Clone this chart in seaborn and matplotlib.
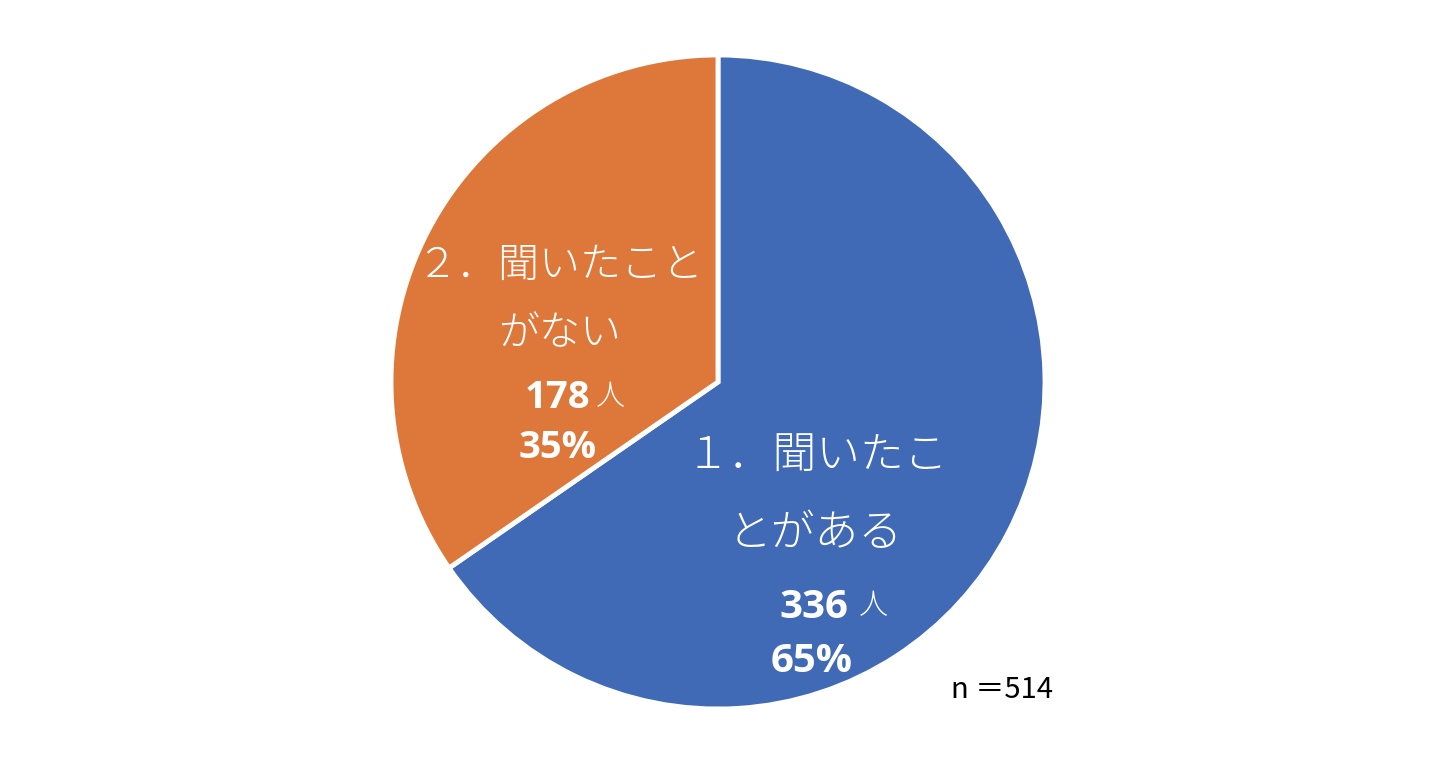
import matplotlib
matplotlib.use("Agg")
import matplotlib.pyplot as plt
import seaborn as sns

# ---- data ----
categories = ["１．聞いたこ\nとがある", "２．聞いたこと\nがない"]
counts = [336, 178]
percents = ["65%", "35%"]
total_label = "n ＝514"
colors = ["#416AB6", "#DE783A"]

sns.set_theme(style="white")
plt.rcParams["font.family"] = ["Noto Sans CJK JP", "DejaVu Sans"]

W, H = 1444, 760
fig = plt.figure(figsize=(W / 100, H / 100), dpi=100)
fig.patch.set_facecolor("white")

cx, cy, r = 718, 382, 327  # pixel centre and radius
ax = fig.add_axes([(cx - r) / W, (H - cy - r) / H, 2 * r / W, 2 * r / H])
ax.pie(counts, colors=sns.color_palette(colors), startangle=90, counterclock=False,
       radius=1, wedgeprops=dict(edgecolor="white", linewidth=3.5))
ax.set_xlim(-1, 1)
ax.set_ylim(-1, 1)
ax.set_aspect("equal")
ax.axis("off")


def px(x, y):
    return (x - cx) / r, (cy - y) / r


# label layout in pixels
layout = [
    dict(name=[(817, 455), (815, 533)], nsize=31.5, count=(814, 607), jin=(873, 606),
         pct=(812, 662), vsize=29),
    dict(name=[(560, 265), (560, 333)], nsize=29.5, count=(558, 398), jin=(610, 397),
         pct=(558, 448), vsize=27.5),
]

for cat, cnt, pct, lay in zip(categories, counts, percents, layout):
    for line, (x, y) in zip(cat.split("\n"), lay["name"]):
        ax.text(*px(x, y), line, color="white", fontsize=lay["nsize"], fontweight="light",
                ha="center", va="center")
    ax.text(*px(*lay["count"]), f"{cnt}", color="white", fontsize=lay["vsize"],
            fontweight="bold", ha="center", va="center",
            family=["Open Sans", "DejaVu Sans"])
    ax.text(*px(*lay["jin"]), "人", color="white", fontsize=21, fontweight="light",
            ha="center", va="center")
    ax.text(*px(*lay["pct"]), pct, color="white", fontsize=lay["vsize"],
            fontweight="bold", ha="center", va="center",
            family=["Open Sans", "DejaVu Sans"])

ax.text(*px(1002, 690), total_label, color="black", fontsize=21,
        ha="center", va="center", clip_on=False)

fig.savefig("out.png", dpi=100, facecolor="white")
